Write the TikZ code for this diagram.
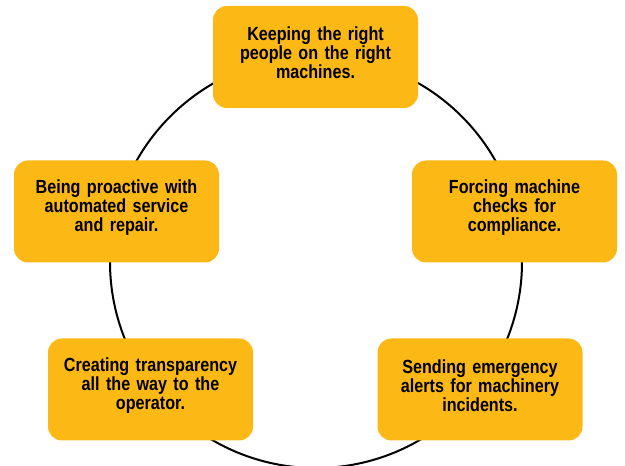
\documentclass[tikz,border=0pt]{standalone}
\usepackage{fontspec}
\newfontfamily\condfont{Liberation Sans}[FakeStretch=0.85]
\definecolor{boxorange}{RGB}{252,184,21}
\begin{document}
\begin{tikzpicture}[x=1pt,y=1pt,
  stepbox/.style={fill=boxorange, draw=none, rounded corners=14pt,
    minimum width=205pt, minimum height=102pt},
  steptext/.style={text width=200pt, align=center, inner sep=0pt,
    font=\condfont\bfseries\fontsize{19}{19}\selectfont}]
\useasboundingbox (0,0) rectangle (625,466);
\coordinate (c) at (316,204);
\draw[line width=2pt] (c) circle[radius=206];
\node[stepbox] (top) at (315.5,409) {};
\node[stepbox] (left) at (116.5,254.5) {};
\node[stepbox] (right) at (514.5,254.5) {};
\node[stepbox] (bl) at (150.5,76.5) {};
\node[stepbox] (br) at (480,76.5) {};
\node[steptext] (ttop) at ([yshift=4pt]top.center) {Keeping the right\\people on the right\\machines.};
\node[steptext] (tleft) at ([yshift=4pt]left.center) {Being proactive with\\automated service\\and repair.};
\node[steptext] (tright) at ([yshift=4pt]right.center) {Forcing machine\\checks for\\compliance.};
\node[steptext] (tbl) at ([yshift=4pt]bl.center) {Creating transparency\\all the way to the\\operator.};
\node[steptext] (tbr) at ([yshift=4pt]br.center) {Sending emergency\\alerts for machinery\\incidents.};
\end{tikzpicture}
\end{document}
